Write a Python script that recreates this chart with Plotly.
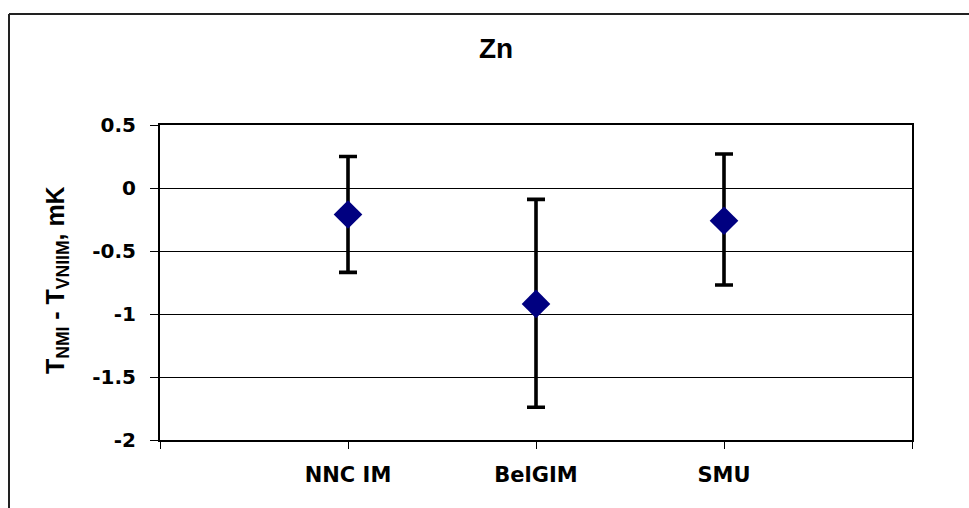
import plotly.graph_objects as go

# Data
labs = ["NNC IM", "BelGIM", "SMU"]
xpos = [1, 2, 3]
vals = [-0.21, -0.92, -0.26]
err_plus = [0.46, 0.83, 0.53]
err_minus = [0.46, 0.82, 0.51]
ytick_vals = [0.5, 0, -0.5, -1, -1.5, -2]
ytick_text = ["0.5", "0", "-0.5", "-1", "-1.5", "-2"]

W, H = 969, 508
L, R, T, B = 160, 57, 125, 68
pw, ph = W - L - R, H - T - B

FONT = "DejaVu Sans"
FONT2 = "Liberation Sans"

fig = go.Figure()
fig.add_trace(go.Scatter(
    x=xpos, y=vals, mode="markers",
    marker=dict(symbol="diamond", size=22, color="#000080", line=dict(width=0)),
    error_y=dict(type="data", symmetric=False, array=err_plus, arrayminus=err_minus,
                 color="black", thickness=3.6, width=9),
    showlegend=False,
))

def px2paper_x(px):
    return (px - L) / pw

def px2paper_y(py):
    return (H - B - py) / ph

fig.update_layout(
    width=W, height=H,
    margin=dict(l=L, r=R, t=T, b=B),
    paper_bgcolor="white", plot_bgcolor="white",
    font=dict(family=FONT, size=20, color="black"),
    xaxis=dict(range=[0, 4], tickvals=xpos, ticktext=labs,
               ticks="outside", ticklen=7, tickwidth=1, tickcolor="black",
               minor=dict(tick0=0, dtick=1, ticks="outside", ticklen=7,
                          tickwidth=1, tickcolor="black", showgrid=False),
               showgrid=False, zeroline=False,
               showline=True, linecolor="black", linewidth=2, mirror=True,
               ticklabelstandoff=8,
               tickfont=dict(family=FONT, size=21, color="black", weight="bold")),
    yaxis=dict(range=[-2, 0.5], tickvals=ytick_vals, ticktext=ytick_text,
               ticks="outside", ticklen=8, tickwidth=1, tickcolor="black",
               showgrid=True, gridcolor="black", gridwidth=1, zeroline=False,
               showline=True, linecolor="black", linewidth=2, mirror=True,
               ticklabelstandoff=10,
               tickfont=dict(family=FONT, size=20, color="black", weight="bold")),
    annotations=[
        dict(text="<b>Zn</b>", x=px2paper_x(496), y=px2paper_y(49),
             xref="paper", yref="paper", showarrow=False,
             font=dict(family=FONT2, size=28, color="black"),
             xanchor="center", yanchor="middle"),
        dict(text="<b>T<sub>NMI</sub> - T<sub>VNIIM</sub>, mK</b>",
             x=px2paper_x(57), y=px2paper_y(280),
             xref="paper", yref="paper", showarrow=False, textangle=-90,
             font=dict(family=FONT2, size=25, color="black"),
             xanchor="center", yanchor="middle"),
    ],
    shapes=[
        dict(type="line", xref="paper", yref="paper",
             x0=px2paper_x(9), x1=px2paper_x(9), y0=px2paper_y(520), y1=px2paper_y(14),
             line=dict(color="#222", width=2)),
        dict(type="line", xref="paper", yref="paper",
             x0=px2paper_x(9), x1=px2paper_x(980), y0=px2paper_y(14), y1=px2paper_y(14),
             line=dict(color="#222", width=2)),
    ],
)

fig.write_html("out.html")
